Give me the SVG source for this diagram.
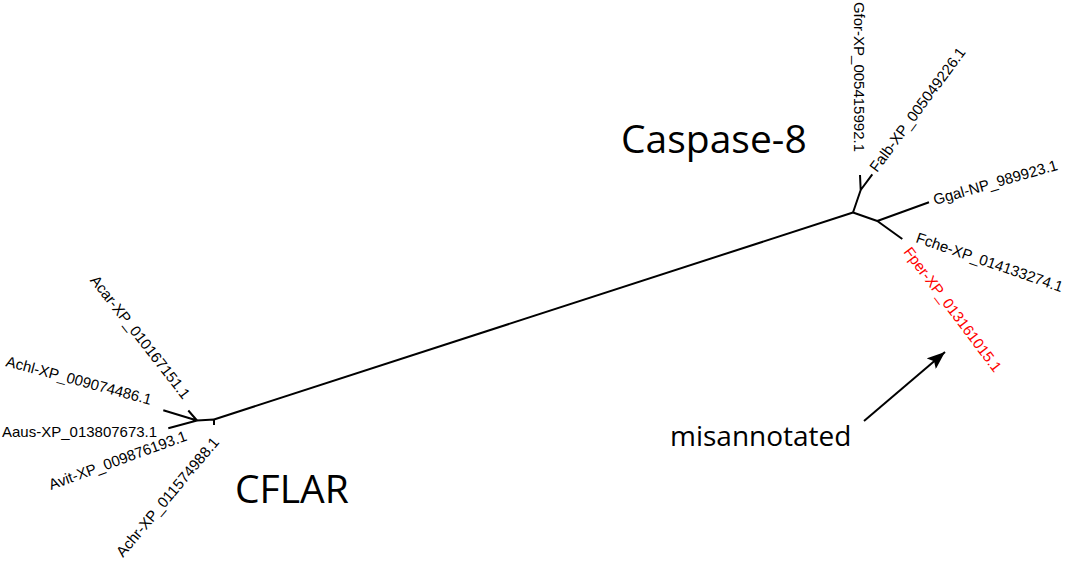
<svg xmlns="http://www.w3.org/2000/svg" width="1067" height="572" viewBox="0 0 1067 572">
<style>
.tip{font-family:"Liberation Sans",Arial,Helvetica,sans-serif;font-size:15px;fill:#000}
.red{fill:#ff0000}
.big{font-family:"Open Sans","Noto Sans","Liberation Sans",sans-serif;fill:#000}
.br{fill:none;stroke:#000;stroke-width:2;stroke-linecap:butt;stroke-linejoin:miter}
</style>
<defs>
<marker id="ah" viewBox="0 0 10 10" refX="10" refY="5" markerWidth="9" markerHeight="7" markerUnits="strokeWidth" orient="auto" preserveAspectRatio="none">
<path d="M0,0 L10,5 L0,10 L2,5 z" fill="#000"/>
</marker>
</defs>
<rect width="1067" height="572" fill="#fff"/>
<g id="connectors">
<path class="br" d="M214,419.5 L853,212.5"/>
<path class="br" d="M853,212.5 L860.7,190 M860.7,190 L860,175 M860.7,190 L872.3,174.3"/>
<path class="br" d="M853,212.5 L877.3,221 M877.3,221 L929,202.3 M877.3,221 L902.3,239"/>
<path class="br" d="M214,419.5 L197,420.5 M214,419 L214,425"/>
<path class="br" d="M197,420.5 L163.3,410.3 M197,420.5 L188.3,410.5 M197,420.5 L168.3,428.3"/>
<path class="br" d="M864,421 L945,352" marker-end="url(#ah)"/>
</g>
<g id="tip-Gfor"><text class="tip" transform="translate(854,152) rotate(90)" text-anchor="end">Gfor-XP_005415992.1</text></g>
<g id="tip-Falb"><text class="tip" transform="translate(877,173) rotate(-53.5)">Falb-XP_005049226.1</text></g>
<g id="tip-Ggal"><text class="tip" transform="translate(935,205) rotate(-16)">Ggal-NP_989923.1</text></g>
<g id="tip-Fche"><text class="tip" transform="translate(915,242) rotate(19)">Fche-XP_014133274.1</text></g>
<g id="tip-Fper"><text class="tip red" transform="translate(903,252) rotate(53)">Fper-XP_013161015.1</text></g>
<g id="tip-Acar"><text class="tip" transform="translate(183,400) rotate(52)" text-anchor="end">Acar-XP_010167151.1</text></g>
<g id="tip-Achl"><text class="tip" transform="translate(5,366) rotate(15)">Achl-XP_009074486.1</text></g>
<g id="tip-Aaus"><text class="tip" x="2" y="436.5">Aaus-XP_013807673.1</text></g>
<g id="tip-Avit"><text class="tip" transform="translate(51,490) rotate(-20)">Avit-XP_009876193.1</text></g>
<g id="tip-Achr"><text class="tip" transform="translate(123,558) rotate(-50)">Achr-XP_011574988.1</text></g>
<g id="label-caspase8"><text class="big" x="621" y="153" font-size="39">Caspase-8</text></g>
<g id="label-cflar"><text class="big" x="235" y="503" font-size="39">CFLAR</text></g>
<g id="label-misannotated"><text class="big" x="670" y="446" font-size="28">misannotated</text></g>
</svg>
